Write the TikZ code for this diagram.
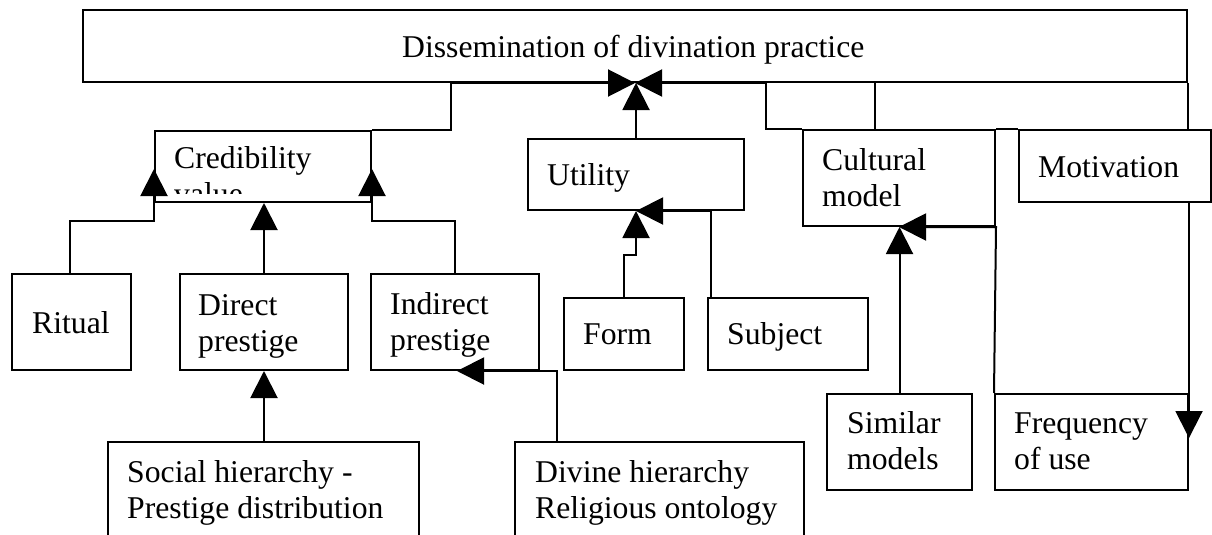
\documentclass[tikz,border=0pt]{standalone}
\usepackage{fontspec}
\setmainfont{Liberation Serif}
\usetikzlibrary{arrows.meta}
\newcommand\txtfont{\fontsize{31.7}{36.3}\selectfont}
\newcommand\twoln[2]{\begin{tabular}[t]{@{}l@{}}#1\\#2\end{tabular}}
\begin{document}
\begin{tikzpicture}[x=1pt,y=-1pt,
  box/.style={draw, line width=2pt, fill=white, inner sep=0pt, anchor=north west},
  sz/.style 2 args={minimum width=#1pt, minimum height=#2pt},
  lbl/.style={anchor=base west, inner sep=0pt, font=\txtfont},
  link/.style={line width=2pt},
  arr/.style={link, -{Triangle[length=27pt,width=27pt]}}]

% page frame
\clip (0,0) rectangle (1212,535);
\fill[white] (0,0) rectangle (1212,535);

% boxes
\node[box, sz={1104}{72}] (top) at (82,9) {};
\node[box, sz={216}{71}] (cred) at (154,130) {};
\node[box, sz={216}{71}] (util) at (527,138) {};
\node[box, sz={192}{96}] (cult) at (802,129) {};
\node[box, sz={192}{72}] (motiv) at (1018,129) {};
\node[box, sz={119}{96}] (ritual) at (11,273) {};
\node[box, sz={168}{96}] (direct) at (179,273) {};
\node[box, sz={168}{96}] (indirect) at (370,273) {};
\node[box, sz={120}{72}] (form) at (563,297) {};
\node[box, sz={160}{72}] (subject) at (707,297) {};
\node[box, sz={145}{96}] (similar) at (826,393) {};
\node[box, sz={193}{96}] (freq) at (994,393) {};
\node[box, sz={311}{120}] (social) at (107,441) {};
\node[box, sz={289}{120}] (divine) at (514,441) {};

% labels
\node[lbl] (ttop) at (402,57) {Dissemination of divination practice};
\begin{scope}
  \clip (154,130) rectangle (370,193);
  \node[lbl] (tcred) at (174,168) {\twoln{Credibility}{value}};
\end{scope}
\node[lbl] (tutil) at (547,185) {Utility};
\node[lbl] (tcult) at (822,170) {\twoln{Cultural}{model}};
\node[lbl] (tmotiv) at (1038,177) {Motivation};
\node[lbl] (tritual) at (32,333) {Ritual};
\node[lbl] (tdirect) at (198,315) {\twoln{Direct}{prestige}};
\node[lbl] (tindirect) at (390,314) {\twoln{Indirect}{prestige}};
\node[lbl] (tform) at (583,344) {Form};
\node[lbl] (tsubject) at (727,344) {Subject};
\node[lbl] (tsimilar) at (847,433) {\twoln{Similar}{models}};
\node[lbl] (tfreq) at (1014,433) {\twoln{Frequency}{of use}};
\node[lbl] (tsocial) at (127,482) {\twoln{Social hierarchy -}{Prestige distribution}};
\node[lbl] (tdivine) at (535,482) {\twoln{Divine hierarchy}{Religious ontology}};

% connectors into the top box
\draw[arr] (cred.north east) -- ++(79,0) |- (top.south);
\draw[arr] (util.north) -- (util.north |- top.south);
\draw[arr] (cult.north west) -- ++(-36,0) |- (top.south);
\draw[link] ([xshift=73pt]cult.north west) -- ([xshift=73pt]cult.north west |- top.south);
\draw[link] (top.south east) -- (top.south east |- motiv.north);
\draw[link] (cult.north east) -- (motiv.north west);

% credibility value
\draw[arr] ([xshift=59pt]ritual.north west) |- ([yshift=-18pt]cred.south west) -- ([yshift=34pt]cred.south west);
\draw[arr] (direct.north) -- (direct.north |- cred.south);
\draw[arr] ([xshift=85pt]indirect.north west) |- ([yshift=-18pt]cred.south east) -- ([yshift=34pt]cred.south east);
\draw[arr] (direct.south |- social.north) -- (direct.south);
\draw[arr] ([xshift=43pt]divine.north west) |- ([xshift=87pt]indirect.south west);

% utility
\draw[arr] (form.north) |- ([yshift=-44pt]util.south) -- (util.south);
\draw[arr] ([xshift=4pt]subject.north west) |- (util.south);

% cultural model and motivation
\draw[arr] (similar.north) -- (similar.north |- cult.south);
\draw[arr] (freq.north west) -- (cult.south east) -- (cult.south);
\draw[arr] (freq.north east |- motiv.south) -- ([yshift=-45pt]freq.north east);
\end{tikzpicture}
\end{document}
